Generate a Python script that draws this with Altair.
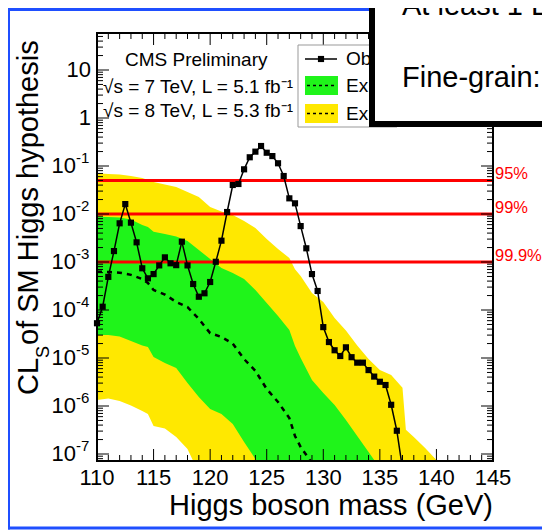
import altair as alt
import pandas as pd

FONT = "Liberation Sans"
GREEN = "#1ff41a"
YELLOW = "#ffe800"
RED = "#ff0000"
BLUE = "#1f4fff"

# ---------------- data ----------------
m_obs = [110, 110.5, 111, 111.5, 112, 112.5, 113, 113.5, 114, 114.5, 115, 115.5,
         116, 116.5, 117, 117.5, 118, 118.5, 119, 119.5, 120, 120.5, 121, 121.5,
         122, 122.5, 123, 123.5, 124, 124.5, 125, 125.5, 126, 126.5, 127, 127.5,
         128, 128.5, 129, 129.5, 130, 130.5, 131, 131.5, 132, 132.5, 133, 133.5,
         134, 134.5, 135, 135.5, 136, 136.5, 137]
cls_obs = [5.3e-5, 1.17e-4, 4.9e-4, 1.69e-3, 6.4e-3, 1.61e-2, 6.6e-3, 2.57e-3,
           7.4e-4, 4.57e-4, 5.6e-4, 8.5e-4, 1.25e-3, 9.4e-4, 8.6e-4, 2.65e-3,
           8.5e-4, 3.48e-4, 1.89e-4, 2.23e-4, 3.83e-4, 1.01e-3, 2.78e-3, 1.1e-2,
           4.02e-2, 4.22e-2, 8.53e-2, 0.152, 0.199, 0.261, 0.189, 0.161,
           0.114, 6.19e-2, 2.12e-2, 1.67e-2, 5.6e-3, 1.93e-3, 5.6e-4, 2.49e-4,
           4.4e-5, 2.15e-5, 1.45e-5, 1.1e-5, 1.67e-5, 1.04e-5, 8.0e-6, 8.0e-6,
           5.6e-6, 4.1e-6, 3.2e-6, 2.74e-6, 1.06e-6, 3.05e-7, 5e-8]

m_exp = [110, 111, 112, 113, 114, 114.5, 115, 116, 117, 118, 119, 120, 121, 122,
         123, 124, 125, 126, 127, 127.5, 128, 129, 130, 131, 132, 133, 134, 135,
         136, 137, 137.3, 138, 139, 140, 141]
exp_median = [6.3e-4, 6.2e-4, 6.0e-4, 5.4e-4, 4.43e-4, 3.65e-4, 2.61e-4, 2.1e-4,
              1.47e-4, 1.15e-4, 6.5e-5, 3.3e-5, 2.74e-5, 2.0e-5, 9.5e-6, 5.4e-6,
              2.26e-6, 1.21e-6, 5.6e-7, 2.37e-7, 1.4e-7, 6.5e-8, 2.5e-8, 1e-8,
              1e-8, 1e-8, 1e-8, 1e-8, 1e-8, 1e-8, 1e-8, 1e-8, 1e-8, 1e-8, 1e-8]
exp_1s_hi = [8.79e-3, 8.7e-3, 8.45e-3, 7.7e-3, 5.9e-3, 5.37e-3, 4.28e-3, 3.83e-3,
             3.4e-3, 2.74e-3, 1.78e-3, 1.155e-3, 7.5e-4, 5.9e-4, 4.43e-4, 2.61e-4,
             1.4e-4, 7.5e-5, 3.83e-5, 1.78e-5, 1e-5, 3.48e-6, 1.87e-6, 1.05e-6,
             5.1e-7, 2.37e-7, 1.1e-7, 5.1e-8, 2.5e-8, 1e-8, 1e-8, 1e-8, 1e-8, 1e-8, 1e-8]
exp_1s_lo = [3.01e-5, 3.01e-5, 2.82e-5, 2.26e-5, 1.82e-5, 1.69e-5, 1.05e-5, 7.9e-6,
             6.2e-6, 3.0e-6, 1.54e-6, 8.7e-7, 6.8e-7, 4.2e-7, 1.78e-7, 7.9e-8,
             3.6e-8, 1e-8, 1e-8, 1e-8, 1e-8, 1e-8, 1e-8, 1e-8, 1e-8, 1e-8, 1e-8,
             1e-8, 1e-8, 1e-8, 1e-8, 1e-8, 1e-8, 1e-8, 1e-8]
exp_2s_hi = [7.05e-2, 6.84e-2, 6.65e-2, 6.17e-2, 5.62e-2, 5.13e-2, 4.65e-2, 4.12e-2,
             3.65e-2, 2.87e-2, 2.26e-2, 1.4e-2, 1.13e-2, 9.53e-3, 7.15e-3, 5.1e-3,
             3.01e-3, 1.87e-3, 1.21e-3, 7.1e-4, 5.1e-4, 2.26e-4, 1.47e-4, 6.8e-5,
             3.74e-5, 1.82e-5, 9.5e-6, 5.6e-6, 4.4e-6, 2.4e-6, 3.2e-7, 2.26e-7,
             1.33e-7, 7.5e-8, 4e-8]
exp_2s_lo = [1.33e-6, 1.43e-6, 1.27e-6, 1.02e-6, 7.9e-7, 6.8e-7, 3.83e-7, 3.4e-7,
             2.26e-7, 1.27e-7, 4e-8, 1e-8, 1e-8, 1e-8, 1e-8, 1e-8, 1e-8, 1e-8,
             1e-8, 1e-8, 1e-8, 1e-8, 1e-8, 1e-8, 1e-8, 1e-8, 1e-8, 1e-8, 1e-8,
             1e-8, 1e-8, 1e-8, 1e-8, 1e-8, 1e-8]

cl_levels = [0.05, 0.01, 0.001]
cl_labels = ["95%", "99%", "99.9%"]

x_major = [110, 115, 120, 125, 130, 135, 140, 145]
x_minor = [m for m in range(111, 145) if m % 5 != 0]
x_labels = ["110", "115", "120", "125", "130", "135", "140", "145"]

Y_MIN, Y_MAX = 7.15e-8, 59.0
y_major = [1e-7, 1e-6, 1e-5, 1e-4, 1e-3, 1e-2, 1e-1, 1.0, 10.0]
y_minor = [k * 10.0 ** e for e in range(-8, 2) for k in range(2, 10)
           if Y_MIN < k * 10.0 ** e < Y_MAX]
y_plain_vals = [10.0, 1.0]
y_plain_text = ["10", "1"]
y_exp_vals = [1e-1, 1e-2, 1e-3, 1e-4, 1e-5, 1e-6, 1e-7]
y_exp_text = ["-1", "-2", "-3", "-4", "-5", "-6", "-7"]

# ---------------- geometry ----------------
W, H = 396, 428
XS = alt.Scale(domain=[110, 145], nice=False, zero=False)
YS = alt.Scale(type="log", domain=[Y_MIN, Y_MAX], nice=False)


def xf(f):
    return alt.X(f, type="quantitative", scale=XS, axis=None)


def yf(f):
    return alt.Y(f, type="quantitative", scale=YS, axis=None)


one = pd.DataFrame({"d": [0]})

df_exp = pd.DataFrame({"m": m_exp, "med": exp_median, "lo1": exp_1s_lo,
                       "hi1": exp_1s_hi, "lo2": exp_2s_lo, "hi2": exp_2s_hi})
df_obs = pd.DataFrame({"m": m_obs, "v": cls_obs})
df_cl = pd.DataFrame({"v": cl_levels, "t": cl_labels})
df_xmaj = pd.DataFrame({"m": x_major, "t": x_labels})
df_xmin = pd.DataFrame({"m": x_minor})
df_ymaj = pd.DataFrame({"v": y_major})
df_ymin = pd.DataFrame({"v": y_minor})
df_yplain = pd.DataFrame({"v": y_plain_vals, "t": y_plain_text})
df_yexp = pd.DataFrame({"v": y_exp_vals, "t": y_exp_text})

layers = []

# slide blue frame
layers.append(alt.Chart(one).mark_rule(color=BLUE, strokeWidth=3).encode(
    x=alt.value(-88.5), y=alt.value(-26), y2=alt.value(496.5)))
layers.append(alt.Chart(one).mark_rule(color=BLUE, strokeWidth=3).encode(
    x=alt.value(-90), x2=alt.value(300), y=alt.value(-23.5)))
layers.append(alt.Chart(one).mark_rule(color=BLUE, strokeWidth=3).encode(
    x=alt.value(-90), x2=alt.value(460), y=alt.value(495)))

# bands
layers.append(alt.Chart(df_exp).mark_area(color=YELLOW, clip=True).encode(
    x=xf("m"), y=yf("lo2"), y2="hi2"))
layers.append(alt.Chart(df_exp).mark_area(color=GREEN, clip=True).encode(
    x=xf("m"), y=yf("lo1"), y2="hi1"))
layers.append(alt.Chart(df_exp).mark_line(color="black", strokeWidth=2.5,
                                          strokeDash=[5, 5], clip=True).encode(
    x=xf("m"), y=yf("med")))

# CL lines
layers.append(alt.Chart(df_cl).mark_rule(color=RED, strokeWidth=3).encode(y=yf("v")))
layers.append(alt.Chart(df_cl).mark_text(color=RED, font=FONT, fontSize=16.5,
                                         align="left", baseline="alphabetic",
                                         dy=-1).encode(
    y=yf("v"), x=alt.value(398), text="t:N"))

# observed
layers.append(alt.Chart(df_obs).mark_line(color="black", strokeWidth=1.5, clip=True).encode(
    x=xf("m"), y=yf("v")))
layers.append(alt.Chart(df_obs).transform_filter(alt.datum.v > Y_MIN).mark_point(
    shape="square", filled=True, size=38, color="black", opacity=1).encode(
    x=xf("m"), y=yf("v")))

# ticks
for df, y0, y1 in [(df_xmaj, H, H - 12), (df_xmaj, 0, 12), (df_xmin, H, H - 6), (df_xmin, 0, 6)]:
    layers.append(alt.Chart(df).mark_rule(color="black", strokeWidth=1).encode(
        x=xf("m"), y=alt.value(y0), y2=alt.value(y1)))
for df, x0, x1 in [(df_ymaj, 0, 12), (df_ymaj, W, W - 12), (df_ymin, 0, 6), (df_ymin, W, W - 6)]:
    layers.append(alt.Chart(df).mark_rule(color="black", strokeWidth=1).encode(
        y=yf("v"), x=alt.value(x0), x2=alt.value(x1)))

# frame
layers.append(alt.Chart(one).mark_rect(fillOpacity=0, stroke="black", strokeWidth=2).encode(
    x=alt.value(0), x2=alt.value(W), y=alt.value(0), y2=alt.value(H)))

# tick labels
layers.append(alt.Chart(df_xmaj).mark_text(font=FONT, fontSize=22, align="center",
                                           baseline="alphabetic").encode(
    x=xf("m"), y=alt.value(452), text="t:N"))
layers.append(alt.Chart(df_yplain).mark_text(font=FONT, fontSize=22, align="right",
                                             baseline="middle").encode(
    y=yf("v"), x=alt.value(-6), text="t:N"))
layers.append(alt.Chart(df_yexp).mark_text(font=FONT, fontSize=22, align="right",
                                           baseline="middle").encode(
    y=yf("v"), x=alt.value(-21), text=alt.value("10")))
layers.append(alt.Chart(df_yexp).mark_text(font=FONT, fontSize=15, align="left",
                                           baseline="middle", dy=-8).encode(
    y=yf("v"), x=alt.value(-21), text="t:N"))

# axis titles
layers.append(alt.Chart(one).mark_text(font=FONT, fontSize=29, align="center",
                                       baseline="alphabetic").encode(
    x=alt.value(234), y=alt.value(482), text=alt.value("Higgs boson mass (GeV)")))
layers.append(alt.Chart(one).mark_text(font=FONT, fontSize=29, angle=270, align="left",
                                       baseline="alphabetic").encode(
    x=alt.value(-59.5), y=alt.value(362), text=alt.value("CL")))
layers.append(alt.Chart(one).mark_text(font=FONT, fontSize=18, angle=270, align="left",
                                       baseline="alphabetic").encode(
    x=alt.value(-48), y=alt.value(325), text=alt.value("S")))
layers.append(alt.Chart(one).mark_text(font=FONT, fontSize=29, angle=270, align="left",
                                       baseline="alphabetic").encode(
    x=alt.value(-59.5), y=alt.value(312), text=alt.value(" of SM Higgs hypothesis")))

# CMS labels
layers.append(alt.Chart(one).mark_text(font=FONT, fontSize=19, align="left",
                                       baseline="alphabetic").encode(
    x=alt.value(28), y=alt.value(33), text=alt.value("CMS Preliminary")))
layers.append(alt.Chart(one).mark_text(font=FONT, fontSize=19, align="left",
                                       baseline="alphabetic").encode(
    x=alt.value(6), y=alt.value(60), text=alt.value("√s = 7 TeV, L = 5.1 fb⁻¹")))
layers.append(alt.Chart(one).mark_text(font=FONT, fontSize=19, align="left",
                                       baseline="alphabetic").encode(
    x=alt.value(6), y=alt.value(84), text=alt.value("√s = 8 TeV, L = 5.3 fb⁻¹")))

# legend
layers.append(alt.Chart(one).mark_rect(fill="white", stroke="#999999", strokeWidth=1).encode(
    x=alt.value(201), x2=alt.value(300), y=alt.value(12), y2=alt.value(94)))
layers.append(alt.Chart(one).mark_rule(color="black", strokeWidth=1.5).encode(
    x=alt.value(208), x2=alt.value(240), y=alt.value(26)))
layers.append(alt.Chart(one).mark_point(shape="square", filled=True, size=38,
                                        color="black", opacity=1).encode(
    x=alt.value(224), y=alt.value(26)))
layers.append(alt.Chart(one).mark_rect(fill=GREEN).encode(
    x=alt.value(208), x2=alt.value(241), y=alt.value(43), y2=alt.value(62)))
layers.append(alt.Chart(one).mark_rect(fill=YELLOW).encode(
    x=alt.value(208), x2=alt.value(241), y=alt.value(71), y2=alt.value(90)))
for yy in [52.5, 80.5]:
    layers.append(alt.Chart(one).mark_rule(color="black", strokeWidth=1.5,
                                           strokeDash=[3, 3]).encode(
        x=alt.value(210), x2=alt.value(240), y=alt.value(yy)))
for yy, txt in [(26, "Observed"), (52.5, "Expected ± 1σ"), (80.5, "Expected ± 2σ")]:
    layers.append(alt.Chart(one).mark_text(font=FONT, fontSize=19, align="left",
                                           baseline="middle").encode(
        x=alt.value(249), y=alt.value(yy), text=alt.value(txt)))

# overlay box from the slide
layers.append(alt.Chart(one).mark_rect(fill="white", stroke="black", strokeWidth=6).encode(
    x=alt.value(275), x2=alt.value(480), y=alt.value(-60), y2=alt.value(91)))
layers.append(alt.Chart(one).mark_text(font=FONT, fontSize=29, align="left",
                                       baseline="alphabetic").encode(
    x=alt.value(305), y=alt.value(-18), text=alt.value("At least 1 Event")))
layers.append(alt.Chart(one).mark_text(font=FONT, fontSize=29, align="left",
                                       baseline="alphabetic").encode(
    x=alt.value(305), y=alt.value(54), text=alt.value("Fine-grain:")))

chart = alt.layer(*layers).properties(
    width=W, height=H,
    padding={"left": 89, "top": 25, "right": 49, "bottom": 69},
    autosize=alt.AutoSizeParams(type="none"),
    background="white",
).configure_view(strokeWidth=0)

chart.save("out.html", embed_options={"renderer": "svg", "actions": False})
